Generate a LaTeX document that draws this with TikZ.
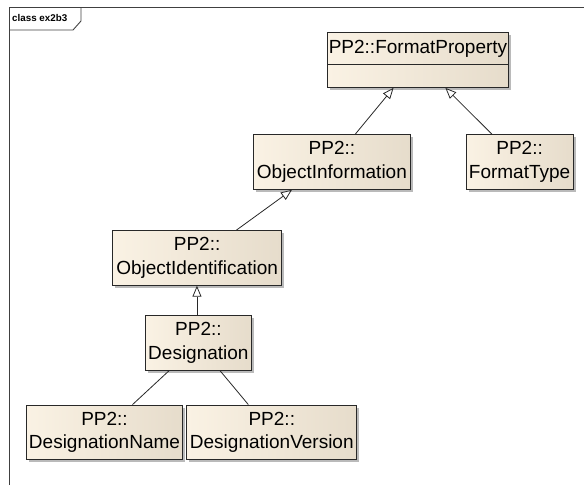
\documentclass[tikz,border=0pt]{standalone}
\usepackage{fontspec}
\setmainfont{Liberation Sans}
\usetikzlibrary{arrows.meta,shadows}

\definecolor{boxleft}{RGB}{250,242,228}
\definecolor{boxright}{RGB}{230,220,203}
\definecolor{edgegray}{RGB}{40,40,40}

\tikzset{
  umlclass/.style={
    draw=edgegray, line width=0.9pt,
    left color=boxleft, right color=boxright,
    drop shadow={shadow xshift=2.5pt, shadow yshift=-2.5pt, fill=black!45, opacity=0.6},
    minimum height=54.7pt, inner sep=0pt, align=center,
    font=\fontsize{19}{23.5}\selectfont
  },
  link/.style={draw=edgegray, line width=0.8pt},
  generalize/.style={link, -{Triangle[length=11pt, width=9pt, fill=white]}},
  frameline/.style={draw=black!75, line width=0.9pt}
}

\begin{document}
\begin{tikzpicture}[x=1pt, y=-1pt]
\useasboundingbox (0,0) rectangle (584,485);

% diagram frame with its name tab
\draw[frameline] (9,485) -- (9,7.5) -- (584,7.5);
\draw[frameline] (9,30) -- (73,30) -- (81,21) -- (81,7.5);
\node[anchor=base west, inner sep=0pt, font=\bfseries\fontsize{9.8}{11}\selectfont] (frametitle) at (12,21) {class ex2b3};

% classes
\node[umlclass, minimum width=181pt] (fp) at (418,60) {};
\node[inner sep=0pt, font=\fontsize{19}{23.5}\selectfont] (fptitle) at (418,49) {PP2::FormatProperty};
\draw[link, line width=0.9pt] ([yshift=-32.6pt]fp.north west) -- ([yshift=-32.6pt]fp.north east);

\node[umlclass, minimum width=157.8pt] (oi) at (331.9,162) {PP2::\\ObjectInformation};
\node[umlclass, minimum width=107.2pt] (ft) at (519.6,162) {PP2::\\FormatType};
\node[umlclass, minimum width=168.6pt] (oid) at (197.1,257.9) {PP2::\\ObjectIdentification};
\node[umlclass, minimum width=106.2pt] (des) at (198.4,342.9) {PP2::\\Designation};
\node[umlclass, minimum width=156.1pt] (dn) at (104.5,432.4) {PP2::\\DesignationName};
\node[umlclass, minimum width=170pt] (dv) at (271.8,432.4) {PP2::\\DesignationVersion};

% generalizations
\draw[generalize] ([xshift=102.7pt]oi.north west) -- ([xshift=66.5pt]fp.south west);
\draw[generalize] ([xshift=26.4pt]ft.north west) -- ([xshift=118.3pt]fp.south west);
\draw[generalize] ([xshift=124.1pt]oid.north west) -- ([xshift=39.4pt]oi.south west);
\draw[generalize] ([xshift=52.1pt]des.north west) -- ([xshift=84.6pt]oid.south west);

% plain associations
\draw[link] ([xshift=24.2pt]des.south west) -- ([xshift=106.5pt]dn.north west);
\draw[link] ([xshift=75.2pt]des.south west) -- ([xshift=62pt]dv.north west);
\end{tikzpicture}
\end{document}
